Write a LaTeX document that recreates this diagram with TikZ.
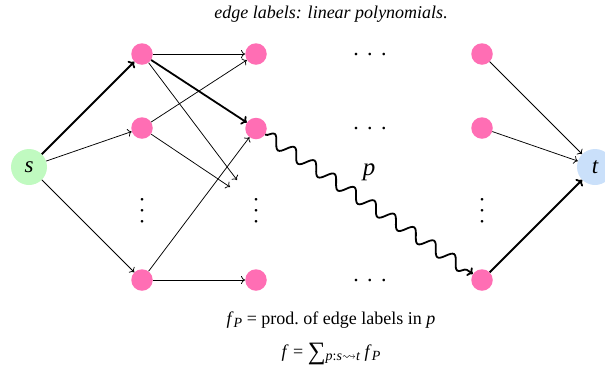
\documentclass[tikz,border=0pt]{standalone}
\usepackage{amsmath,amssymb}
\usepackage{fontspec}
\setmainfont{Liberation Serif}
\usetikzlibrary{decorations.pathmorphing,arrows.meta}
\definecolor{pinkc}{RGB}{255,110,180}
\definecolor{greenc}{RGB}{192,250,192}
\definecolor{bluec}{RGB}{202,224,250}
\newcommand\mi[1]{\textit{#1}}
\newcommand\subx[1]{\raisebox{-3.5pt}{\fontsize{14}{16}\selectfont #1}}
\newcommand\hdotsx{.\hspace{8.5pt}.\hspace{8.5pt}.}
\newcommand\vdotsxx{.\hspace{5.5pt}.\hspace{5.5pt}.}
\begin{document}
\begin{tikzpicture}[x=1pt,y=-1pt,
  pk/.style={circle, fill=pinkc, minimum size=21.5pt, inner sep=0pt},
  endpt/.style={circle, minimum size=36pt, inner sep=0pt, font=\fontsize{23}{25}\selectfont\itshape},
  txt/.style={inner sep=0pt, font=\fontsize{18}{22}\selectfont},
  dotsn/.style={inner sep=0pt, anchor=base, font=\fontsize{22}{24}\selectfont},
  thin edge/.style={-{To[length=4pt,width=8pt]}, line width=0.75pt},
  thick edge/.style={-{To[length=5pt,width=10pt]}, line width=1.8pt}]
\useasboundingbox (0,0) rectangle (605,368);

\node[txt, font=\fontsize{18}{22}\selectfont\itshape] (title) at (331,14) {edge labels: linear polynomials.};

\node[endpt, fill=greenc] (s) at (29,167) {s};
\node[endpt, fill=bluec] (t) at (595,167) {t};

\node[pk] (a1) at (142,54) {};
\node[pk] (a2) at (142,128) {};
\node[pk] (a4) at (142,280) {};
\node[pk] (b1) at (256,54) {};
\node[pk] (b2) at (256,128.5) {};
\node[pk] (b4) at (256,280) {};
\node[pk] (c1) at (482,54) {};
\node[pk] (c2) at (482,128) {};
\node[pk] (c4) at (482,280) {};

\node[dotsn] (h1) at (370,55.5) {\hdotsx};
\node[dotsn] (h2) at (370,129.5) {\hdotsx};
\node[dotsn] (h4) at (370,281) {\hdotsx};
\node[dotsn, rotate=90] (v1) at (143,211) {\vdotsxx};
\node[dotsn, rotate=90] (v2) at (257,211) {\vdotsxx};
\node[dotsn, rotate=90] (v3) at (483,211) {\vdotsxx};

\coordinate (e1) at (237,180);
\coordinate (e2) at (230,187);

\draw[thick edge] (s) -- (a1);
\draw[thin edge] (s) -- (a2);
\draw[thin edge] (s) -- (a4);
\draw[thin edge] (a1) -- (b1);
\draw[thick edge] (a1) -- (b2);
\draw[thin edge] (a1) -- (e1);
\draw[thin edge] (a2) -- (b1);
\draw[thin edge] (a2) -- (e2);
\draw[thin edge] (a4) -- (b2);
\draw[thin edge] (a4) -- (b4);
\draw[thin edge] (c1) -- (t);
\draw[thin edge] (c2) -- (t);
\draw[thick edge] (c4) -- (t);
\draw[thick edge, decorate, decoration={snake, amplitude=6pt, segment length=24pt, post length=6pt}] (b2) -- (c4);

\node[inner sep=0pt, font=\fontsize{25}{27}\selectfont\itshape] (plabel) at (369,172) {p};

\node[txt] (fp) at (331,320) {\mi{f}\subx{\mi{P}} = prod.\ of edge labels in \mi{p}};
\node[txt] (fsum) at (331,354) {\mi{f} = \raisebox{-2.5pt}{\fontsize{25}{26}\selectfont ∑}\subx{\mi{p}:\mi{s}$\rightsquigarrow$\mi{t}} \mi{f}\subx{\mi{P}}};
\end{tikzpicture}
\end{document}
